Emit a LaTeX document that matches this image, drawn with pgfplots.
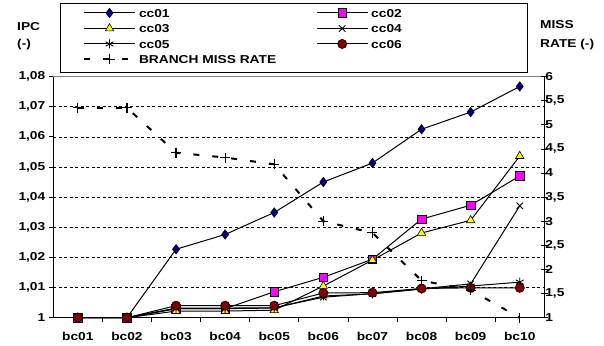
\documentclass[border=0pt]{standalone}
\usepackage{fontspec}
\setmainfont{Liberation Sans}[FakeStretch=1.2]
\usepackage{pgfplots}
\pgfplotsset{compat=1.18}
\newcommand\lf{\fontsize{11.5}{13.8}\selectfont\bfseries}
\definecolor{cnavy}{HTML}{000080}
\definecolor{cmag}{HTML}{FF00FF}
\definecolor{cyel}{HTML}{FFFF00}
\definecolor{cred}{HTML}{800000}
\pgfplotsset{
  mylegend/.style={legend image code/.code={%
    \draw[mark repeat=2,mark phase=2,##1] plot coordinates {(0bp,0bp) (25.5bp,0bp) (51bp,0bp)};}},
}
\begin{document}
\begin{tikzpicture}
\begin{axis}[
  at={(0,0)}, anchor=south west,
  scale only axis, width=491bp, height=241.2bp,
  xmin=0.5, xmax=10.5, ymin=1, ymax=1.08,
  axis x line*=bottom, axis y line*=left,
  axis line style={line width=0.8pt},
  xtick={1.5,2.5,3.5,4.5,5.5,6.5,7.5,8.5,9.5}, xticklabels={},
  extra x ticks={1,2,3,4,5,6,7,8,9,10},
  extra x tick labels={bc01,bc02,bc03,bc04,bc05,bc06,bc07,bc08,bc09,bc10},
  extra x tick style={major tick length=0pt, grid=none},
  ytick={1,1.01,1.02,1.03,1.04,1.05,1.06,1.07,1.08},
  ymajorgrids,
  grid style={black, line width=0.5pt, dash pattern=on 3bp off 2.5bp},
  tick align=outside, major tick length=4.5bp,
  tick style={black, line width=0.7pt},
  /pgf/number format/assume math mode=true,
  tick label style={font=\lf},
  yticklabel style={/pgf/number format/.cd, fixed, precision=2, use comma},
  xticklabel style={yshift=-11bp},
  clip=false,
  mylegend,
  legend columns=2,
  legend style={draw=none, fill=none, at={(0.0605,1.2956)}, anchor=north west,
    inner sep=0pt, outer sep=0pt, font=\lf, row sep=0pt, column sep=0pt,
    nodes={inner xsep=3bp, inner ysep=3.5bp, text height=8.5bp, text depth=0bp},
    /tikz/column 2/.style={column sep=37bp}},
  legend cell align=left,
]
\addplot[black, line width=1pt, mark=diamond*, mark size=4.7bp, mark options={fill=cnavy, draw=black, line width=0.6pt}]
 coordinates {(1,1) (2,1) (3,1.0227) (4,1.0276) (5,1.0349) (6,1.0450) (7,1.0513) (8,1.0625) (9,1.0682) (10,1.0767)};
\addlegendentry{cc01}
\addplot[black, line width=1pt, mark=square*, mark size=4.3bp, mark options={fill=cmag, draw=black, line width=0.6pt}]
 coordinates {(1,1) (2,1) (3,1.0030) (4,1.0030) (5,1.0086) (6,1.0134) (7,1.0194) (8,1.0327) (9,1.0373) (10,1.0470)};
\addlegendentry{cc02}
\addplot[black, line width=1pt, mark=triangle*, mark size=4.8bp, mark options={fill=cyel, draw=black, line width=0.6pt}]
 coordinates {(1,1) (2,1) (3,1.0022) (4,1.0022) (5,1.0025) (6,1.0105) (7,1.0191) (8,1.0281) (9,1.0323) (10,1.0536)};
\addlegendentry{cc03}
\addplot[black, line width=1pt, mark=x, mark size=4.5bp, mark options={line width=0.9pt}]
 coordinates {(1,1) (2,1) (3,1.0032) (4,1.0032) (5,1.0033) (6,1.0068) (7,1.0080) (8,1.0096) (9,1.0112) (10,1.0371)};
\addlegendentry{cc04}
\addplot[black, line width=1pt, mark=asterisk, mark size=4.5bp, mark options={line width=0.9pt}]
 coordinates {(1,1) (2,1) (3,1.0030) (4,1.0030) (5,1.0032) (6,1.0072) (7,1.0079) (8,1.0095) (9,1.0105) (10,1.0118)};
\addlegendentry{cc05}
\addplot[black, line width=1pt, mark=*, mark size=4.6bp, mark options={fill=cred, draw=black, line width=0.6pt}]
 coordinates {(1,1) (2,1) (3,1.0040) (4,1.0040) (5,1.0040) (6,1.0082) (7,1.0083) (8,1.0097) (9,1.0099) (10,1.0099)};
\addlegendentry{cc06}
\addlegendimage{black, line width=2bp, dash pattern=on 6bp off 13bp, mark=+, mark size=5bp, mark options={solid, line width=1.2pt}}
\addlegendentry{BRANCH MISS RATE}
\draw[gray, line width=0.6pt] (rel axis cs:0,1) -- (rel axis cs:1,1);
\end{axis}
\begin{axis}[
  at={(0,0)}, anchor=south west,
  scale only axis, width=491bp, height=241.2bp,
  xmin=0.5, xmax=10.5, ymin=1, ymax=6,
  axis y line*=right, axis x line=none,
  axis line style={line width=0.8pt},
  ytick={1,1.5,2,2.5,3,3.5,4,4.5,5,5.5,6},
  tick align=center, major tick length=7bp,
  tick style={black, line width=0.7pt},
  /pgf/number format/assume math mode=true,
  tick label style={font=\lf},
  yticklabel style={xshift=-6bp, /pgf/number format/.cd, fixed, precision=1, use comma},
  clip=false,
]
\addplot[black, line width=2bp, dash pattern=on 6bp off 13bp, mark=+, mark size=5bp, mark options={solid, line width=1.2pt}]
 coordinates {(1,5.35) (2,5.35) (3,4.42) (4,4.32) (5,4.18) (6,3.00) (7,2.76) (8,1.77) (9,1.57) (10,1.00)};
\end{axis}
\draw[black, line width=0.7pt] (6.7bp,245.7bp) rectangle (473.7bp,314.7bp);
\node[font=\lf, inner sep=0pt, anchor=west] at (-36.3bp,290.7bp) {IPC};
\node[font=\lf, inner sep=0pt, anchor=west] at (-36.3bp,272.7bp) {(-)};
\node[font=\lf, inner sep=0pt, anchor=west] at (486.7bp,292.7bp) {MISS};
\node[font=\lf, inner sep=0pt, anchor=west] at (486.7bp,272.7bp) {RATE (-)};
\pgfresetboundingbox
\useasboundingbox (-53.3bp,-28.3bp) rectangle (550.7bp,317.7bp);
\end{tikzpicture}
\end{document}
